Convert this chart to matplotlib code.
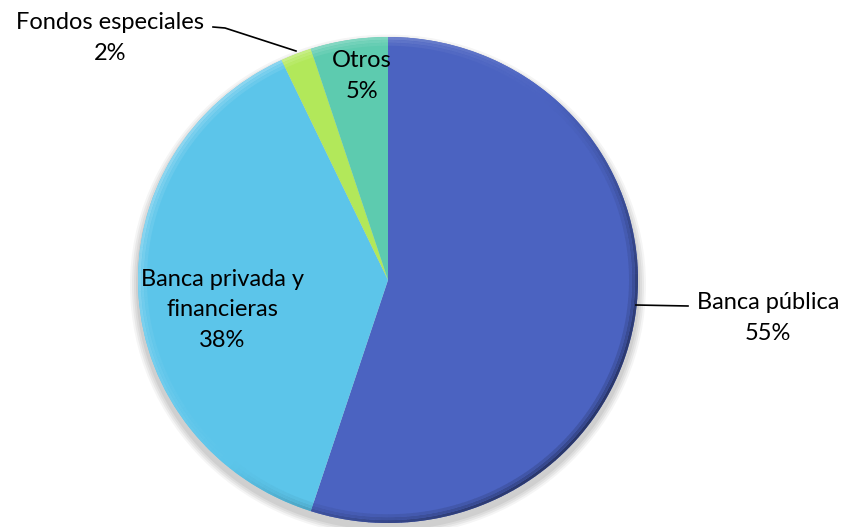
import numpy as np
import matplotlib.pyplot as plt
import matplotlib.colors as mcolors
from matplotlib.patches import Wedge

labels = ["Banca pública", "Banca privada y\nfinancieras", "Fondos especiales", "Otros"]
shares = [55, 38, 2, 5]
colors = ["#4B63C1", "#5CC5EA", "#B2E85A", "#5DCBAF"]

# pixel geometry of the pie in the 846x527 canvas
W, H = 846, 527
CX, CY, RX, RY = 388, 280, 250, 243


def px(x, y):
    return (x - CX) / RX, (CY - y) / RY


def shade(col, f):
    r = np.array(mcolors.to_rgb(col))
    if f >= 0:
        r = r + (1 - r) * f
    else:
        r = r * (1 + f)
    return tuple(np.clip(r, 0, 1))


plt.rcParams["font.family"] = ["Lato", "DejaVu Sans"]
fig = plt.figure(figsize=(W / 100, H / 100), dpi=100)
ax = fig.add_axes([0, 0, 1, 1])

# soft shadow
for k, a in enumerate([0.04, 0.05, 0.05, 0.06]):
    ax.pie([1], radius=1.0 + 0.008 * (4 - k), center=(0.0, -0.022),
           colors=["#000000"], wedgeprops=dict(alpha=a, linewidth=0))

wedges, _ = ax.pie(shares, colors=colors, startangle=90, counterclock=False,
                   wedgeprops=dict(linewidth=0))

# bevel: light from the upper left, dark toward the lower right
for wdg, col in zip(wedges, colors):
    t1, t2 = sorted([wdg.theta1, wdg.theta2])
    steps = np.arange(t1, t2, 1.5)
    for a in steps:
        b = min(a + 1.6, t2)
        m = np.deg2rad((a + b) / 2)
        lit = np.cos(m - np.deg2rad(140))
        for r_out, wid, k in [(1.0, 0.012, 1.0), (0.988, 0.012, 0.6), (0.976, 0.012, 0.3)]:
            f = (0.30 if lit > 0 else 0.45) * lit * k
            ax.add_patch(Wedge((0, 0), r_out, a, b, width=wid,
                               facecolor=shade(col, f), edgecolor="none"))

ax.set_aspect("auto")
ax.set_xlim((0 - CX) / RX, (W - CX) / RX)
ax.set_ylim((CY - H) / RY, CY / RY)
ax.axis("off")

fs = 17
ls = 1.55
pct = [f"{v}%" for v in shares]
ax.text(*px(768, 318), f"{labels[0]}\n{pct[0]}", ha="center", va="center",
        fontsize=fs, linespacing=ls)
ax.text(*px(222, 310), f"{labels[1]}\n{pct[1]}", ha="center", va="center",
        fontsize=fs, linespacing=ls)
ax.text(*px(110, 38), f"{labels[2]}\n{pct[2]}", ha="center", va="center",
        fontsize=fs, linespacing=ls)
ax.text(*px(362, 76), f"{labels[3]}\n{pct[3]}", ha="center", va="center",
        fontsize=fs, linespacing=ls)

# leader lines
x0, y0 = px(213, 27)
x1, y1 = px(225, 28)
x2, y2 = px(296, 51)
ax.plot([x0, x1, x2], [y0, y1, y2], color="black", lw=1.2)
a0, b0 = px(636, 305)
a1, b1 = px(688, 306)
ax.plot([a0, a1], [b0, b1], color="black", lw=1.2)

fig.savefig("out.png", dpi=100)
